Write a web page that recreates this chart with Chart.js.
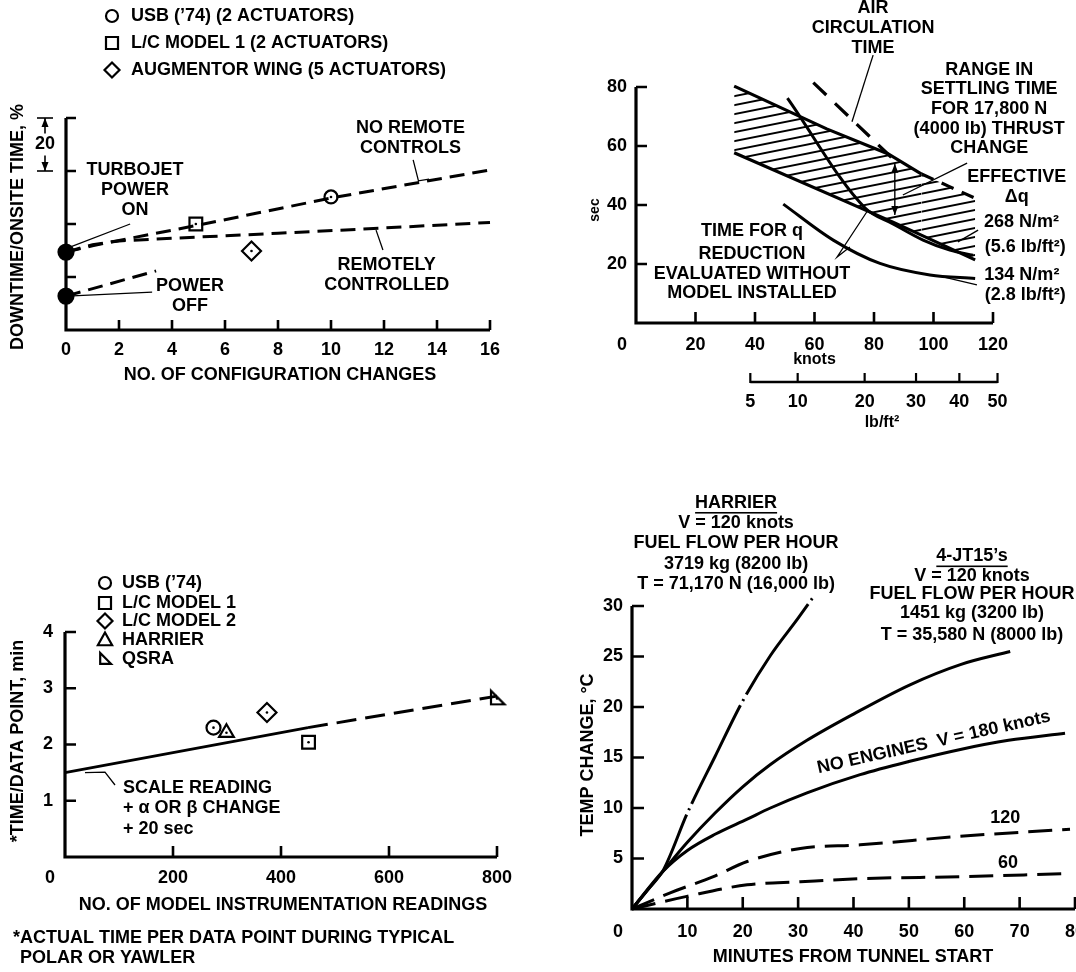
<!DOCTYPE html>
<html>
<head>
<meta charset="utf-8">
<title>Wind tunnel productivity charts</title>
<script src="https://cdn.jsdelivr.net/npm/chart.js@4.4.1/dist/chart.umd.min.js"></script>
<style>
  html, body { margin: 0; padding: 0; background: #fff; overflow: hidden; width: 1076px; height: 972px; }
  #wrap { position: relative; width: 1076px; height: 972px; overflow: hidden; }
  #wrap canvas { position: absolute; left: 0; top: 0; }
</style>
</head>
<body>
<div id="wrap">
  <canvas id="chartDowntime" width="1100" height="972"></canvas>
  <canvas id="chartSettling" width="1100" height="972"></canvas>
  <canvas id="chartReadings" width="1100" height="972"></canvas>
  <canvas id="chartTemp" width="1100" height="972"></canvas>
</div>
<script>
// ---------- Downtime vs. number of configuration changes ----------
const changeTicks = [0, 2, 4, 6, 8, 10, 12, 14, 16];
const downtimeTicks = [20, 40, 60, 80];
const downtimeSeries = ['USB (\u201974) (2 ACTUATORS)', 'L/C MODEL 1 (2 ACTUATORS)', 'AUGMENTOR WING (5 ACTUATORS)'];
const noRemoteChanges = [0, 1, 2, 5, 10, 16];
const noRemoteDowntime = [29.4, 31.8, 33.8, 39.6, 49.8, 60.4];
const remoteChanges = [0, 1, 2, 4, 8, 12, 16];
const remoteDowntime = [29.4, 32.2, 33.6, 34.6, 36.5, 38.5, 40.6];
const powerOffChanges = [0, 3.4];
const powerOffDowntime = [12.8, 22.3];
const startChanges = [0, 0];
const startDowntime = [29.4, 12.8];
const usbChanges = [10];
const usbDowntime = [50.2];
const lc1Changes = [4.9];
const lc1Downtime = [40];
const augChanges = [7];
const augDowntime = [29.8];

// ---------- Settling time vs. tunnel speed ----------
const knotTicks = [0, 20, 40, 60, 80, 100, 120];
const secTicks = [20, 40, 60, 80];
const dynPressureTicks = [5, 10, 20, 30, 40, 50];   // lb/ft2
const bandTopKnots = [33, 64.1, 84.8, 96, 105, 114];
const bandTopSec = [80.3, 65.8, 57.3, 50.5, 46.4, 42.3];
const bandBottomKnots = [33, 86.4, 114];
const bandBottomSec = [57.7, 34.2, 21.4];
const airCircKnots = [59.6, 86];
const airCircSec = [81.5, 56];
const q268Knots = [50.9, 77, 86.4, 96.5, 105.5, 113.3];
const q268Sec = [76.2, 39, 33.6, 28.1, 24.7, 23];
const q134Knots = [49.5, 66.3, 82, 98.8, 114];
const q134Sec = [40.3, 28.1, 20.2, 16.3, 15.1];
const settleKnots = [87, 87];
const settleSec = [54, 36.6];

// ---------- Time per data point vs. instrumentation readings ----------
const readingTicks = [0, 200, 400, 600, 800];
const pointTimeTicks = [1, 2, 3, 4];
const readingSeries = ['USB (\u201974)', 'L/C MODEL 1', 'L/C MODEL 2', 'HARRIER', 'QSRA'];
const fitSolidReadings = [0, 450];
const fitSolidMinutes = [1.5, 2.3];
const fitDashReadings = [450, 800];
const fitDashMinutes = [2.3, 2.86];
const usbReadings = [275];
const usbMinutes = [2.30];
const lc1Readings = [451];
const lc1Minutes = [2.04];
const lc2Readings = [374];
const lc2Minutes = [2.57];
const harrierReadings = [299];
const harrierMinutes = [2.21];
const qsraReadings = [800];
const qsraMinutes = [2.82];

// ---------- Temperature rise vs. time from tunnel start ----------
const minuteTicks = [0, 10, 20, 30, 40, 50, 60, 70, 80];
const tempTicks = [5, 10, 15, 20, 25, 30];
const harrierTime = [0, 3, 5.7, 10, 15, 20, 25, 30, 33];
const harrierTemp = [0, 2, 3.9, 9.5, 15.1, 20.6, 25.1, 28.8, 31.1];
const jt15Time = [0, 5.7, 10, 15, 20, 25, 31.6, 40, 50.2, 59.3, 68.3];
const jt15Temp = [0, 3.8, 6.6, 9.5, 12.1, 14.3, 16.7, 19.3, 22.2, 24.2, 25.5];
const noEngTime = [0, 5.7, 10, 15, 20.8, 25, 31.6, 41.2, 50, 59.3, 68, 78.2];
const noEngTemp = [0, 3.8, 5.8, 7.4, 8.9, 10.0, 11.5, 13.3, 14.6, 15.8, 16.7, 17.4];
const v120Time = [0, 6.9, 14.7, 20.8, 30.4, 41.2, 59.3, 79.1];
const v120Temp = [0, 1.6, 3.2, 4.7, 6.0, 6.35, 7.2, 7.9];
const v60Time = [0, 9.9, 20.8, 30.4, 41.2, 59.3, 78.6];
const v60Temp = [0, 1.25, 2.4, 2.7, 3.0, 3.2, 3.5];

// ---------- shared drawing setup ----------
const FONT = "'Liberation Sans', Arial, Helvetica, sans-serif";
const FS = 18;
const CW = 1100, CH = 972;
const Y_AXIS_W = 60, X_AXIS_H = 50;   // reserved room for tick labels
Chart.defaults.font.family = FONT;
Chart.defaults.font.size = FS;
Chart.defaults.font.weight = 'bold';
Chart.defaults.color = '#000';

const xy = (xs, ys) => xs.map((x, i) => ({ x, y: ys[i] }));

function curve(xs, ys, extra) {
  return Object.assign({
    data: xy(xs, ys), showLine: true, borderColor: '#000', borderWidth: 3,
    pointRadius: 0, clip: false, tension: 0, fill: false
  }, extra || {});
}
function markers(xs, ys, style, r, extra) {
  return Object.assign({
    data: xy(xs, ys), showLine: false, pointStyle: style, pointRadius: r,
    pointBorderColor: '#000', pointBackgroundColor: '#fff', pointBorderWidth: 2.2,
    clip: false, centerDot: true
  }, extra || {});
}

function axis(min, max, ticks, pad, horizontal, labelFn) {
  return {
    type: 'linear', min, max,
    afterBuildTicks: s => { s.ticks = ticks.map(v => ({ value: v })); },
    afterFit: s => { if (horizontal) s.height = X_AXIS_H; else s.width = Y_AXIS_W; },
    grid: { display: false, drawTicks: false },
    border: { display: false },
    ticks: { display: !!labelFn, padding: pad, autoSkip: false, maxRotation: 0, callback: labelFn || (v => v) }
  };
}

function text(ctx, s, x, y, opt) {
  opt = opt || {};
  ctx.save();
  ctx.font = 'bold ' + (opt.size || FS) + 'px ' + FONT;
  ctx.fillStyle = '#000';
  ctx.textAlign = opt.align || 'center';
  ctx.textBaseline = 'middle';
  if (opt.rot) { ctx.translate(x, y); ctx.rotate(opt.rot); ctx.fillText(s, 0, 0); }
  else ctx.fillText(s, x, y);
  if (opt.underline) {
    const w = ctx.measureText(s).width;
    ctx.fillRect(x - w / 2, y + 9, w, 1.6);
  }
  ctx.restore();
}
function seg(ctx, pts, w) {
  ctx.save();
  ctx.strokeStyle = '#000'; ctx.lineWidth = w || 1.3; ctx.lineCap = 'butt';
  ctx.beginPath();
  pts.forEach((p, i) => (i ? ctx.lineTo(p[0], p[1]) : ctx.moveTo(p[0], p[1])));
  ctx.stroke();
  ctx.restore();
}
function arrowHead(ctx, x, y, dir) {   // dir: -1 points up, +1 points down
  ctx.save();
  ctx.fillStyle = '#000';
  ctx.beginPath();
  ctx.moveTo(x, y);
  ctx.lineTo(x - 3.5, y - dir * 9);
  ctx.lineTo(x + 3.5, y - dir * 9);
  ctx.closePath();
  ctx.fill();
  ctx.restore();
}
function symbol(ctx, kind, x, y, r) {
  ctx.save();
  ctx.strokeStyle = '#000'; ctx.fillStyle = '#fff'; ctx.lineWidth = 2.2; ctx.lineJoin = 'miter';
  ctx.beginPath();
  if (kind === 'circle') ctx.arc(x, y, r, 0, Math.PI * 2);
  else if (kind === 'rect') ctx.rect(x - r, y - r, 2 * r, 2 * r);
  else if (kind === 'diamond') { ctx.moveTo(x, y - r * 1.25); ctx.lineTo(x + r * 1.25, y); ctx.lineTo(x, y + r * 1.25); ctx.lineTo(x - r * 1.25, y); ctx.closePath(); }
  else if (kind === 'triangle') { ctx.moveTo(x, y - r); ctx.lineTo(x + r * 0.95, y + r * 0.7); ctx.lineTo(x - r * 0.95, y + r * 0.7); ctx.closePath(); }
  else if (kind === 'qsra') { ctx.moveTo(x - r * 0.8, y - r); ctx.lineTo(x - r * 0.8, y + r * 0.8); ctx.lineTo(x + r, y + r * 0.8); ctx.closePath(); }
  ctx.fill(); ctx.stroke();
  ctx.restore();
}
function qsraImage() {
  const c = document.createElement('canvas');
  c.width = 22; c.height = 22;
  symbol(c.getContext('2d'), 'qsra', 11, 11, 7.5);
  return c;
}
function makeHatch() {
  const w = 45, h = 9;
  const c = document.createElement('canvas');
  c.width = w; c.height = h;
  const g = c.getContext('2d');
  g.strokeStyle = '#000'; g.lineWidth = 1.9;
  [-1, 0, 1].forEach(k => { g.beginPath(); g.moveTo(-1, h + k * h + h / w); g.lineTo(w + 1, k * h - h / w); g.stroke(); });
  return document.createElement('canvas').getContext('2d').createPattern(c, 'repeat');
}

// inward-pointing tick marks and the L-shaped axis frame
function frame(chart, xTicks, yTicks, len) {
  const { ctx, chartArea: a, scales: { x, y } } = chart;
  ctx.save();
  ctx.strokeStyle = '#000';
  ctx.lineWidth = 3.2;
  ctx.lineJoin = 'miter';
  ctx.beginPath();
  ctx.moveTo(a.left, a.top); ctx.lineTo(a.left, a.bottom); ctx.lineTo(a.right, a.bottom);
  ctx.stroke();
  ctx.lineWidth = 2.6;
  ctx.beginPath();
  xTicks.forEach(v => { if (v === x.min) return; const p = x.getPixelForValue(v); ctx.moveTo(p, a.bottom); ctx.lineTo(p, a.bottom - len); });
  yTicks.forEach(v => { const p = y.getPixelForValue(v); ctx.moveTo(a.left, p); ctx.lineTo(a.left + len, p); });
  ctx.stroke();
  ctx.restore();
}
function centerDots(chart) {
  const ctx = chart.ctx;
  chart.data.datasets.forEach((ds, i) => {
    if (!ds.centerDot) return;
    chart.getDatasetMeta(i).data.forEach(pt => {
      ctx.beginPath(); ctx.arc(pt.x, pt.y, 1.3, 0, Math.PI * 2); ctx.fillStyle = '#000'; ctx.fill();
    });
  });
}
function originZero(chart, pad, shift) {
  const a = chart.chartArea;
  text(chart.ctx, '0', a.left - shift, a.bottom + pad + FS * 0.6);
}

function makeChart(id, area, datasets, x, y, before, after) {
  return new Chart(document.getElementById(id), {
    type: 'scatter',
    data: { datasets },
    options: {
      responsive: false, animation: false, events: [],
      layout: { padding: { left: area[0] - Y_AXIS_W, top: area[1], right: CW - area[2], bottom: CH - area[3] - X_AXIS_H } },
      plugins: { legend: { display: false }, tooltip: { enabled: false } },
      scales: { x, y }
    },
    plugins: [{ id: 'decor', beforeDatasetsDraw: before, afterDatasetsDraw: after }]
  });
}

// ================= Downtime chart =================
makeChart('chartDowntime', [66, 118, 490, 330],
  [
    curve(noRemoteChanges, noRemoteDowntime, { borderDash: [15, 8] }),
    curve(remoteChanges, remoteDowntime, { borderDash: [15, 8] }),
    curve(powerOffChanges, powerOffDowntime, { borderDash: [15, 8] }),
    markers(startChanges, startDowntime, 'circle', 7.5, { pointBackgroundColor: '#000', centerDot: false }),
    markers(usbChanges, usbDowntime, 'circle', 6.5),
    markers(lc1Changes, lc1Downtime, 'rect', 9),
    markers(augChanges, augDowntime, 'rectRot', 9.5)
  ],
  axis(0, 16, changeTicks, 9, true, v => String(v)),
  axis(0, 80, downtimeTicks, 8, false, null),
  chart => frame(chart, changeTicks, downtimeTicks, 10),
  chart => {
    const { ctx, chartArea: a, scales: { x, y } } = chart;
    const P = (xv, yv) => [x.getPixelForValue(xv), y.getPixelForValue(yv)];
    centerDots(chart);
    ['circle', 'rect', 'diamond'].forEach((k, i) => {
      const yy = a.top - 102 + 27 * i;
      symbol(ctx, k, a.left + 46, yy, 6);
      text(ctx, downtimeSeries[i], a.left + 65, yy, { align: 'left' });
    });
    text(ctx, 'DOWNTIME/ONSITE TIME, %', a.left - 48, a.top + 109, { rot: -Math.PI / 2 });
    text(ctx, 'NO. OF CONFIGURATION CHANGES', a.left + 214, a.bottom + 45);
    // 20 % scale bracket
    const xb = a.left - 21, y80 = y.getPixelForValue(80), y60 = y.getPixelForValue(60), ym = y.getPixelForValue(70);
    seg(ctx, [[xb - 8, y80], [xb + 8, y80]], 1.6);
    seg(ctx, [[xb - 8, y60], [xb + 8, y60]], 1.6);
    seg(ctx, [[xb, y80], [xb, ym - 11]], 1.6);
    seg(ctx, [[xb, ym + 11], [xb, y60]], 1.6);
    arrowHead(ctx, xb, y80, -1);
    arrowHead(ctx, xb, y60, 1);
    text(ctx, '20', xb, ym);
    // annotations
    ['TURBOJET', 'POWER', 'ON'].forEach((s, i) => { const p = P(2.6, [60.4, 52.8, 45.3][i]); text(ctx, s, p[0], p[1]); });
    seg(ctx, [P(0.05, 30.9), P(2.42, 40)]);
    ['POWER', 'OFF'].forEach((s, i) => { const p = P(4.68, [16.6, 9.1][i]); text(ctx, s, p[0], p[1]); });
    seg(ctx, [P(0.05, 12.8), P(3.25, 14.3)]);
    ['NO REMOTE', 'CONTROLS'].forEach((s, i) => { const p = P(13.0, [76.2, 68.7][i]); text(ctx, s, p[0], p[1]); });
    seg(ctx, [P(13.1, 64.2), P(13.3, 56.3), P(13.7, 56.9)]);
    ['REMOTELY', 'CONTROLLED'].forEach((s, i) => { const p = P(12.1, [24.5, 17][i]); text(ctx, s, p[0], p[1]); });
    seg(ctx, [P(11.7, 37.7), P(11.96, 30.2)]);
  }
);

// ================= Settling time chart =================
makeChart('chartSettling', [636, 87, 993, 323],
  [
    curve(bandTopKnots, bandTopSec, {
      fill: '+1', backgroundColor: makeHatch(), borderWidth: 3.2,
      segment: { borderDash: c => (c.p0DataIndex >= 3 ? [13, 9] : undefined) }
    }),
    curve(bandBottomKnots, bandBottomSec, { borderWidth: 3.2 }),
    curve(airCircKnots, airCircSec, { borderDash: [18, 12], borderWidth: 3.2 }),
    curve(q268Knots, q268Sec, { cubicInterpolationMode: 'monotone' }),
    curve(q134Knots, q134Sec, { cubicInterpolationMode: 'monotone' })
  ],
  axis(0, 120, knotTicks, 11, true, v => (v === 0 ? '' : String(v))),
  axis(0, 80, secTicks, 9, false, v => String(v)),
  chart => frame(chart, knotTicks, secTicks, 11),
  chart => {
    const { ctx, chartArea: a, scales: { x, y } } = chart;
    const P = (xv, yv) => [x.getPixelForValue(xv), y.getPixelForValue(yv)];
    originZero(chart, 11, 14);
    text(ctx, 'sec', a.left - 41, a.top + 123, { size: 14, rot: -Math.PI / 2 });
    text(ctx, 'knots', x.getPixelForValue(60), a.bottom + 37, { size: 16 });
    // dynamic-pressure scale (q = 0.003386 V^2, V in knots)
    const toKnots = q => Math.sqrt(q / 0.003386);
    const qx = dynPressureTicks.map(q => x.getPixelForValue(toKnots(q)));
    const yb = a.bottom + 59;
    seg(ctx, [[qx[0], yb], [qx[qx.length - 1], yb]], 2.6);
    qx.forEach(p => seg(ctx, [[p, yb + 1], [p, yb - 9]], 2.2));
    dynPressureTicks.forEach((q, i) => text(ctx, String(q), qx[i], yb + 20));
    text(ctx, 'lb/ft\u00B2', a.left + 246, yb + 41, { size: 16 });
    // settling-time range arrow
    const s0 = P(settleKnots[0], settleSec[0]), s1 = P(settleKnots[1], settleSec[1]);
    seg(ctx, [s0, s1], 1.4);
    arrowHead(ctx, s0[0], s0[1], -1);
    arrowHead(ctx, s1[0], s1[1], 1);
    // labels and leaders
    ['AIR', 'CIRCULATION', 'TIME'].forEach((s, i) => { const p = P(79.7, [106.8, 100, 93.2][i]); text(ctx, s, p[0], p[1]); });
    seg(ctx, [P(79.7, 90.8), P(72.6, 68.2)]);
    ['RANGE IN', 'SETTLING TIME', 'FOR 17,800 N', '(4000 lb) THRUST', 'CHANGE'].forEach((s, i) => {
      const p = P(118.7, [85.8, 79.3, 72.5, 65.8, 59.3][i]); text(ctx, s, p[0], p[1]);
    });
    seg(ctx, [P(111.3, 54.2), P(89.7, 43.4)]);
    [['EFFECTIVE', 128, 49.5], ['\u0394q', 128, 42.7], ['268 N/m\u00B2', 129.6, 34.2], ['(5.6 lb/ft\u00B2)', 130.8, 25.8],
     ['134 N/m\u00B2', 129.7, 16.3], ['(2.8 lb/ft\u00B2)', 130.8, 9.5]].forEach(t => {
      const p = P(t[1], t[2]); text(ctx, t[0], p[0], p[1]);
    });
    seg(ctx, [P(115, 31.5), P(108.2, 27.5)]);
    seg(ctx, [P(103.2, 15.6), P(114.6, 12.9)]);
    ['TIME FOR q', 'REDUCTION', 'EVALUATED WITHOUT', 'MODEL INSTALLED'].forEach((s, i) => {
      const p = P(39, [31.2, 23.4, 16.6, 10.2][i]); text(ctx, s, p[0], p[1]);
    });
    seg(ctx, [P(78, 38.3), P(67.6, 22.4), P(71.9, 25.8)]);
  }
);

// ================= Time per data point chart =================
makeChart('chartReadings', [65, 632, 497, 857],
  [
    curve(fitSolidReadings, fitSolidMinutes),
    curve(fitDashReadings, fitDashMinutes, { borderDash: [20, 9] }),
    markers(usbReadings, usbMinutes, 'circle', 7),
    markers(lc1Readings, lc1Minutes, 'rect', 9),
    markers(lc2Readings, lc2Minutes, 'rectRot', 9.5),
    markers(harrierReadings, harrierMinutes, 'triangle', 8.5),
    markers(qsraReadings, qsraMinutes, qsraImage(), 8)
  ],
  axis(0, 800, readingTicks, 10.5, true, v => (v === 0 ? '' : String(v))),
  axis(0, 4, pointTimeTicks, 12, false, v => String(v)),
  chart => frame(chart, readingTicks, pointTimeTicks, 11),
  chart => {
    const { ctx, chartArea: a, scales: { x, y } } = chart;
    const P = (xv, yv) => [x.getPixelForValue(xv), y.getPixelForValue(yv)];
    centerDots(chart);
    originZero(chart, 10.5, 15);
    ['circle', 'rect', 'diamond', 'triangle', 'qsra'].forEach((k, i) => {
      const yy = a.top + [-49, -29, -11, 8, 27][i];
      symbol(ctx, k, a.left + 40, yy, k === 'triangle' ? 7.5 : 6);
      text(ctx, readingSeries[i], a.left + 57, yy, { align: 'left' });
    });
    text(ctx, '*TIME/DATA POINT, min', a.left - 47, a.top + 109, { rot: -Math.PI / 2 });
    text(ctx, 'NO. OF MODEL INSTRUMENTATION READINGS', a.left + 218, a.bottom + 48);
    text(ctx, '*ACTUAL TIME PER DATA POINT DURING TYPICAL', a.left - 52, a.bottom + 81, { align: 'left' });
    text(ctx, 'POLAR OR YAWLER', a.left - 45, a.bottom + 101, { align: 'left' });
    ['SCALE READING', '+ \u03B1 OR \u03B2 CHANGE', '+ 20 sec'].forEach((s, i) => {
      const p = P(107.4, [1.22, 0.87, 0.5][i]); text(ctx, s, p[0], p[1], { align: 'left' });
    });
    seg(ctx, [P(37, 1.5), P(74, 1.51), P(92.6, 1.28)]);
  }
);

// ================= Temperature rise chart =================
makeChart('chartTemp', [632, 606, 1075, 909],
  [
    curve(harrierTime, harrierTemp, { cubicInterpolationMode: 'monotone', borderDash: [110, 5, 2, 5] }),
    curve(jt15Time, jt15Temp, { cubicInterpolationMode: 'monotone' }),
    curve(noEngTime, noEngTemp, { cubicInterpolationMode: 'monotone' }),
    curve(v120Time, v120Temp, { cubicInterpolationMode: 'monotone', borderDash: [24, 10] }),
    curve(v60Time, v60Temp, { cubicInterpolationMode: 'monotone', borderDash: [24, 10] })
  ],
  axis(0, 80, minuteTicks, 12, true, v => (v === 0 ? '' : String(v))),
  axis(0, 30, tempTicks, 9, false, v => String(v)),
  chart => frame(chart, minuteTicks, tempTicks, 12),
  chart => {
    const { ctx, chartArea: a, scales: { x, y } } = chart;
    const P = (xv, yv) => [x.getPixelForValue(xv), y.getPixelForValue(yv)];
    originZero(chart, 12, 14);
    text(ctx, 'TEMP CHANGE, \u00B0C', a.left - 44, a.top + 149, { rot: -Math.PI / 2 });
    text(ctx, 'MINUTES FROM TUNNEL START', a.left + 221, a.bottom + 48);
    ['HARRIER', 'V = 120 knots', 'FUEL FLOW PER HOUR', '3719 kg (8200 lb)', 'T = 71,170 N (16,000 lb)'].forEach((s, i) => {
      const p = P(18.8, [40.2, 38.2, 36.2, 34.2, 32.2][i]); text(ctx, s, p[0], p[1], { underline: i === 0 });
    });
    ['4-JT15\u2019s', 'V = 120 knots', 'FUEL FLOW PER HOUR', '1451 kg (3200 lb)', 'T = 35,580 N (8000 lb)'].forEach((s, i) => {
      const p = P(61.4, [34.9, 33.0, 31.2, 29.3, 27.1][i]); text(ctx, s, p[0], p[1], { underline: i === 0 });
    });
    let p = P(67.4, 9.0); text(ctx, '120', p[0], p[1]);
    p = P(67.9, 4.6); text(ctx, '60', p[0], p[1]);
    p = P(54.5, 16.5); text(ctx, 'NO ENGINES  V = 180 knots', p[0], p[1], { rot: -12.6 * Math.PI / 180 });
  }
);
</script>
</body>
</html>
